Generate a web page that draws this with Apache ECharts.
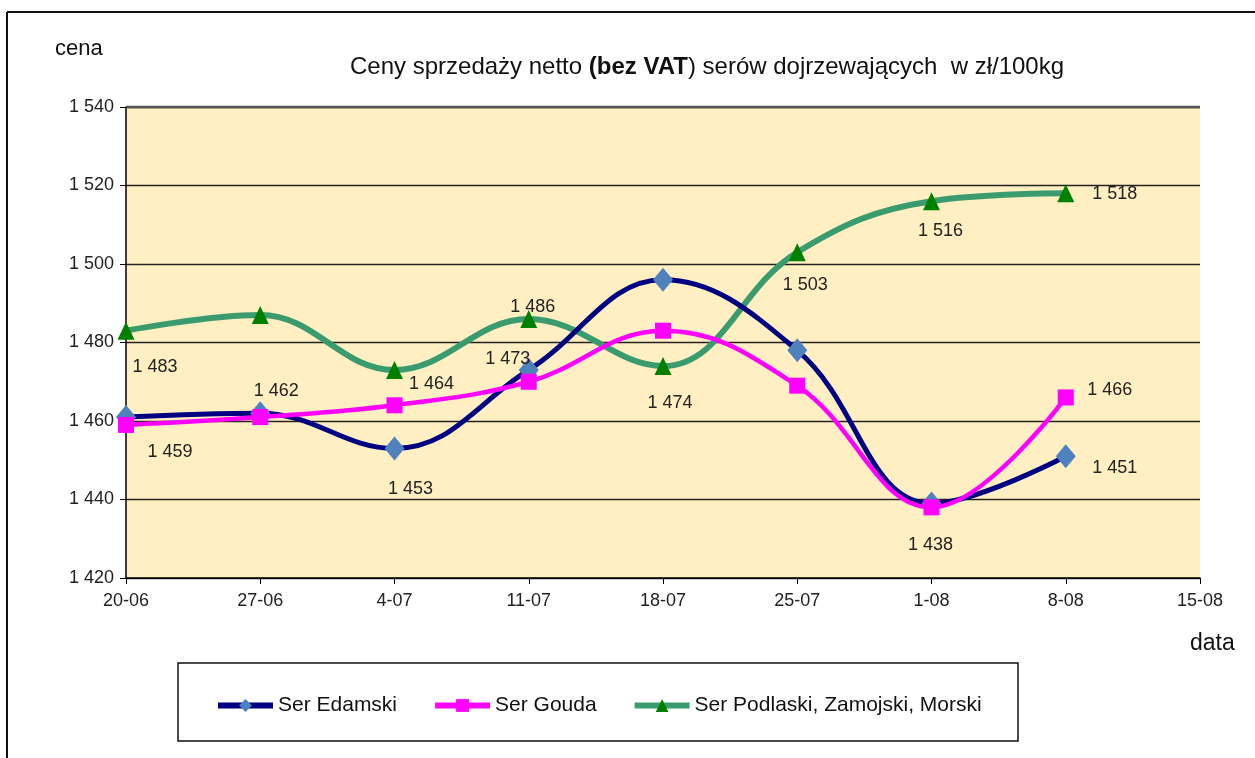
<!DOCTYPE html>
<html>
<head>
<meta charset="utf-8">
<script src="https://cdn.jsdelivr.net/npm/echarts@6/dist/echarts.min.js"></script>
<style>
html,body{margin:0;padding:0;background:#fff;}
#chart{width:1255px;height:758px;}
</style>
</head>
<body>
<div id="chart"></div>
<script>
// ---- data ----
var categories = ['20-06','27-06','4-07','11-07','18-07','25-07','1-08','8-08','15-08'];
var edamski  = [1461, 1462, 1453, 1473, 1496, 1478, 1439, 1451];
var gouda    = [1459, 1461, 1464, 1470, 1483, 1469, 1438, 1466];
var podlaski = [1483, 1487, 1473, 1486, 1474, 1503, 1516, 1518];
var seriesNames = ['Ser Edamski', 'Ser Gouda', 'Ser Podlaski, Zamojski, Morski'];
var yTicks = {min: 1420, max: 1540, step: 20};

// ---- label placement (pixel offsets from the point, index -> [dx, dy]) ----
var labelOffsets = {
  'Ser Edamski': {1:[16,-22], 2:[16,41], 3:[-21,-11], 7:[49,12]},
  'Ser Gouda': {0:[44,27], 2:[37,-21], 6:[-1,38], 7:[44,-7]},
  'Ser Podlaski, Zamojski, Morski': {0:[29,36], 3:[4,-12], 4:[7,37], 5:[8,33], 6:[9,30], 7:[49,1]}
};

var FONT = '"Liberation Sans", Arial, sans-serif';
function fmt(v){ return String(v).replace(/\B(?=(\d{3})+(?!\d))/g, ' '); }

function buildData(name, values){
  var offs = labelOffsets[name] || {};
  return values.map(function(v, i){
    var item = {value: v};
    if (offs[i]) {
      item.label = {show: true, position: 'inside', offset: offs[i]};
    }
    return item;
  });
}

var labelBase = {
  show: false, color: '#222', fontFamily: FONT, fontSize: 18,
  formatter: function(p){ return fmt(p.value); }
};

var lineColors = ['#000080', '#FF00FF', '#3A9B6E'];

var chart = echarts.init(document.getElementById('chart'), null, {renderer: 'canvas'});
var option = {
  animation: false,
  backgroundColor: '#fff',
  title: {
    left: 345, top: 50,
    text: '{a|Ceny sprzedaży netto }{b|(bez VAT}{a|) serów dojrzewających  w zł/100kg}',
    textStyle: {
      fontWeight: 'normal',
      rich: {
        a: {fontFamily: FONT, fontSize: 24, color: '#111', fontWeight: 'normal'},
        b: {fontFamily: FONT, fontSize: 24, color: '#111', fontWeight: 'bold'}
      }
    }
  },
  grid: {
    left: 126, right: 55, top: 107, bottom: 180,
    show: true, backgroundColor: '#FFEFC2', borderWidth: 0
  },
  legend: {
    left: 210, top: 690,
    itemWidth: 55, itemHeight: 16, itemGap: 35,
    textStyle: {fontFamily: FONT, fontSize: 21, color: '#111'},
    data: seriesNames.map(function(n, i){
      return {name: n, lineStyle: {width: 6, color: lineColors[i]}};
    })
  },
  xAxis: {
    type: 'category', data: categories, boundaryGap: false,
    axisLine: {lineStyle: {color: '#000', width: 1.5}},
    axisTick: {show: true, alignWithLabel: true, length: 6, lineStyle: {color: '#000'}},
    axisLabel: {fontFamily: FONT, fontSize: 18, color: '#222', margin: 14, interval: 0},
    splitLine: {show: false}
  },
  yAxis: {
    type: 'value', min: yTicks.min, max: yTicks.max, interval: yTicks.step,
    axisLine: {show: true, lineStyle: {color: '#000', width: 1.5}},
    axisTick: {show: true, length: 6, lineStyle: {color: '#000'}},
    axisLabel: {fontFamily: FONT, fontSize: 18, color: '#222', margin: 12, formatter: fmt},
    splitLine: {show: true, lineStyle: {color: '#222', width: 1.4}}
  },
  graphic: [
    {type: 'line', shape: {x1: 7, y1: 12, x2: 1255, y2: 12}, style: {stroke: '#111', lineWidth: 2}, z: 10},
    {type: 'line', shape: {x1: 7, y1: 12, x2: 7, y2: 758}, style: {stroke: '#111', lineWidth: 2}, z: 10},
    {type: 'line', shape: {x1: 126, y1: 107, x2: 1200, y2: 107}, style: {stroke: '#555', lineWidth: 2.5}, z: 10},
    {type: 'rect', shape: {x: 178, y: 663, width: 840, height: 78}, style: {fill: '#fff', stroke: '#111', lineWidth: 1.5}, z: -1},
    {type: 'text', left: 55, top: 38, style: {text: 'cena', font: '22px ' + FONT, fill: '#111'}},
    {type: 'text', left: 1190, top: 632, style: {text: 'data', font: '23px ' + FONT, fill: '#111'}}
  ],
  series: [
    {
      name: seriesNames[0], type: 'line', smooth: 0.4,
      data: buildData(seriesNames[0], edamski),
      symbol: 'diamond', symbolSize: [20, 24],
      lineStyle: {color: lineColors[0], width: 5},
      itemStyle: {color: '#4F81BD'},
      label: labelBase, z: 3
    },
    {
      name: seriesNames[1], type: 'line', smooth: 0.4,
      data: buildData(seriesNames[1], gouda),
      symbol: 'rect', symbolSize: 16,
      lineStyle: {color: lineColors[1], width: 4.5},
      itemStyle: {color: '#FF00FF'},
      label: labelBase, z: 4
    },
    {
      name: seriesNames[2], type: 'line', smooth: 0.4,
      data: buildData(seriesNames[2], podlaski),
      symbol: 'triangle', symbolSize: [17, 18],
      lineStyle: {color: lineColors[2], width: 6},
      itemStyle: {color: '#008000'},
      label: labelBase, z: 2
    }
  ]
};
chart.setOption(option);
</script>
</body>
</html>
